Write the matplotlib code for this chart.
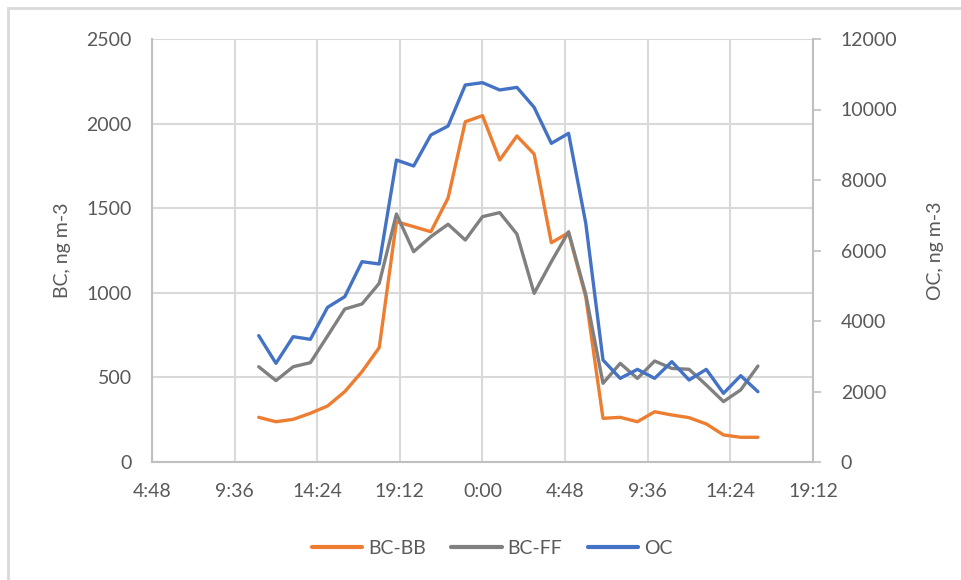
# BC-BB / BC-FF / OC の時系列（左軸BC、右軸OC）
import matplotlib.pyplot as plt
import matplotlib.patches as patches
import numpy as np

plt.rcParams['font.family'] = ['Lato', 'DejaVu Sans']

# 11:00 から翌日 16:00 まで1時間ごと（単位は日）
hours = np.arange(11, 41)
t = hours / 24

bc_bb = [264, 238, 252, 288, 331, 416, 534, 676, 1420, 1391, 1361, 1560, 2011, 2047, 1785,
         1927, 1820, 1296, 1355, 975, 258, 264, 238, 297, 278, 262, 225, 160, 146, 146]
bc_ff = [563, 481, 563, 587, 745, 904, 934, 1056, 1466, 1243, 1332, 1405, 1312, 1450, 1474,
         1347, 997, 1184, 1361, 990, 465, 583, 494, 597, 553, 548, 455, 357, 426, 567]
oc = [3585, 2800, 3555, 3480, 4388, 4690, 5683, 5617, 8567, 8397, 9277, 9531, 10695, 10761, 10554,
      10628, 10061, 9040, 9324, 6771, 2893, 2373, 2628, 2373, 2846, 2326, 2628, 1948, 2449, 1995]

xticks = [0.2, 0.4, 0.6, 0.8, 1.0, 1.2, 1.4, 1.6, 1.8]
xtick_labels = ["4:48", "9:36", "14:24", "19:12", "0:00", "4:48", "9:36", "14:24", "19:12"]

c_bb = "#ED7D31"
c_ff = "#808080"
c_oc = "#4472C4"
txt = "#595959"
grid = "#D9D9D9"

fig = plt.figure(figsize=(9.61, 5.80), dpi=100)
# グラフエリアの枠
fig.patches.append(patches.Rectangle((8 / 961, -0.05), 1.0, 1 - 8 / 580 + 0.05,
                                     transform=fig.transFigure, fill=False,
                                     edgecolor=grid, linewidth=2))

ax = fig.add_axes([152 / 961, 1 - 462 / 580, (813 - 152) / 961, (462 - 39) / 580])
ax2 = ax.twinx()

l1, = ax.plot(t, bc_bb, color=c_bb, lw=2.4, solid_capstyle="round", label="BC-BB")
l2, = ax.plot(t, bc_ff, color=c_ff, lw=2.4, solid_capstyle="round", label="BC-FF")
l3, = ax2.plot(t, oc, color=c_oc, lw=2.4, solid_capstyle="round", label="OC")

ax.set_xlim(0.2, 1.8)
ax.set_ylim(0, 2500)
ax2.set_ylim(0, 12000)
ax.set_xticks(xticks)
ax.set_xticklabels(xtick_labels)
ax.set_yticks([0, 500, 1000, 1500, 2000, 2500])
ax2.set_yticks([0, 2000, 4000, 6000, 8000, 10000, 12000])

ax.grid(True, color=grid, lw=1.5)
ax.set_axisbelow(True)

for a in (ax, ax2):
    for s in a.spines.values():
        s.set_visible(False)
for a, side in ((ax, "left"), (ax, "bottom"), (ax2, "right")):
    a.spines[side].set_visible(True)
    a.spines[side].set_color("#BFBFBF")
    a.spines[side].set_linewidth(1.5)

ax.tick_params(axis="y", length=0, labelsize=14, labelcolor=txt, pad=14.5)
ax.tick_params(axis="x", length=0, labelsize=14, labelcolor=txt, pad=15)
ax2.tick_params(axis="y", length=6, width=1.2, color="#BFBFBF", labelsize=14,
                labelcolor=txt, pad=14)

ax.set_ylabel("BC, ng m-3", fontsize=14, color=txt, labelpad=11.5)
ax2.set_ylabel("OC, ng m-3", fontsize=14, color=txt, labelpad=21)

fig.legend(handles=[l1, l2, l3], loc="center", bbox_to_anchor=(492 / 961, 1 - 548 / 580),
           ncol=3, frameon=False, fontsize=14, labelcolor=txt, handlelength=2.6,
           handletextpad=0.3, columnspacing=1.3)
for h in fig.legends[0].get_lines():
    h.set_linewidth(3)

fig.savefig("out.png", dpi=100)
